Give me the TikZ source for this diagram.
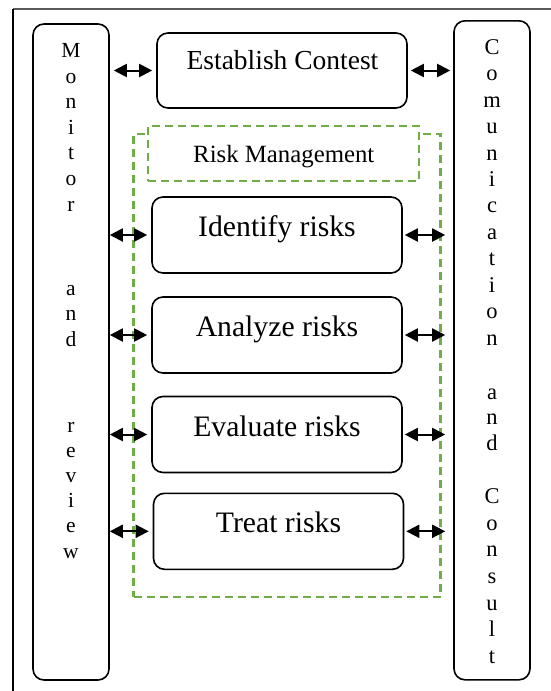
\documentclass[tikz,border=0pt]{standalone}
\usepackage{fontspec}
\setmainfont{Liberation Serif}
\usetikzlibrary{arrows.meta}
\definecolor{rmgreen}{HTML}{70AD47}
\definecolor{framegray}{HTML}{595959}
\begin{document}
\begin{tikzpicture}[x=1pt,y=-1pt,
  roundbox/.style={draw=black, line width=1.6pt, rounded corners=11pt, fill=white, inner sep=0pt},
  riskbox/.style={roundbox, minimum width=250pt, minimum height=76pt},
  greendash/.style={draw=rmgreen, line width=2.3pt, dash pattern=on 8pt off 5pt, inner sep=0pt},
  dbl/.style={{Triangle[length=13pt,width=13pt]}-{Triangle[length=13pt,width=13pt]}, line width=2pt},
  risktext/.style={font=\fontsize{29.7}{32}\selectfont, anchor=base, inner sep=0pt},
  lletter/.style={font=\fontsize{21.5}{22}\selectfont, anchor=base, inner sep=0pt},
  rletter/.style={font=\fontsize{22.5}{23}\selectfont, anchor=base, inner sep=0pt}]
\useasboundingbox (0,0) rectangle (551,691);

% frame
\coordinate (ftl) at (13,9);
\coordinate (ftr) at (551,9);
\coordinate (fbl) at (13,691);
\draw[framegray, line width=1.5pt] (ftr) -- (ftl);
\draw[black, line width=1.4pt] (ftl) -- (fbl);

% side columns
\node[roundbox, minimum width=76pt, minimum height=656pt] (mon) at (71,352) {};
\node[roundbox, minimum width=76pt, minimum height=659pt] (com) at (492,350.3) {};

% establish context
\node[roundbox, minimum width=250pt, minimum height=75pt] (est) at (282,70.5) {};
\node[font=\fontsize{27.5}{30}\selectfont, anchor=base, inner sep=0pt] (estt) at (282.5,69.5) {Establish Contest};

% risk management frame
\node[greendash, minimum width=307pt, minimum height=463pt] (rmouter) at (287,365.7) {};
\node[greendash, fill=white, minimum width=271pt, minimum height=55pt] (rmbox) at (283.8,153.4) {};
\node[font=\fontsize{24.8}{27}\selectfont, anchor=base, inner sep=0pt] (rmt) at (283.8,162.7) {Risk Management};

% risk boxes
\node[riskbox] (idf) at (277,235) {};
\node[riskbox] (ana) at (277,335) {};
\node[riskbox] (eva) at (277,434.5) {};
\node[riskbox] (trt) at (278.5,531.3) {};
\node[risktext] (idft) at (277,236) {Identify risks};
\node[risktext] (anat) at (277,336) {Analyze risks};
\node[risktext] (evat) at (277,436) {Evaluate risks};
\node[risktext] (trtt) at (278.5,532) {Treat risks};

% arrows
\draw[dbl, shorten <=4pt, shorten >=4pt] (est.west -| mon.east) -- (est.west);
\draw[dbl, shorten <=3pt, shorten >=3pt] (est.east) -- (est.east -| com.west);
\foreach \b in {idf,ana,eva,trt}{
  \draw[dbl, shorten >=4pt] (\b.west -| mon.east) -- (\b.west);
  \draw[dbl, shorten <=2pt, shorten >=8pt] (\b.east) -- (\b.east -| com.west);
}

% left column letters
\foreach \ch [count=\i] in {M,o,n,i,t,o,r}
  \node[lletter] (lm\i) at (71,{57.7+25.55*(\i-1)}) {\ch};
\foreach \ch [count=\i] in {a,n,d}
  \node[lletter] (la\i) at (71,{295+25.85*(\i-1)}) {\ch};
\foreach \ch [count=\i] in {r,e,v,i,e,w}
  \node[lletter] (lr\i) at (71,{432.3+25.14*(\i-1)}) {\ch};

% right column letters
\foreach \ch [count=\i] in {C,o,m,u,n,i,c,a,t,i,o,n}
  \node[rletter] (rc\i) at (492,{54.3+26.43*(\i-1)}) {\ch};
\foreach \ch [count=\i] in {a,n,d}
  \node[rletter] (ra\i) at (492,{399+25.85*(\i-1)}) {\ch};
\foreach \ch [count=\i] in {C,o,n,s,u,l,t}
  \node[rletter] (rs\i) at (492,{503.7+26.6*(\i-1)}) {\ch};
\end{tikzpicture}
\end{document}
